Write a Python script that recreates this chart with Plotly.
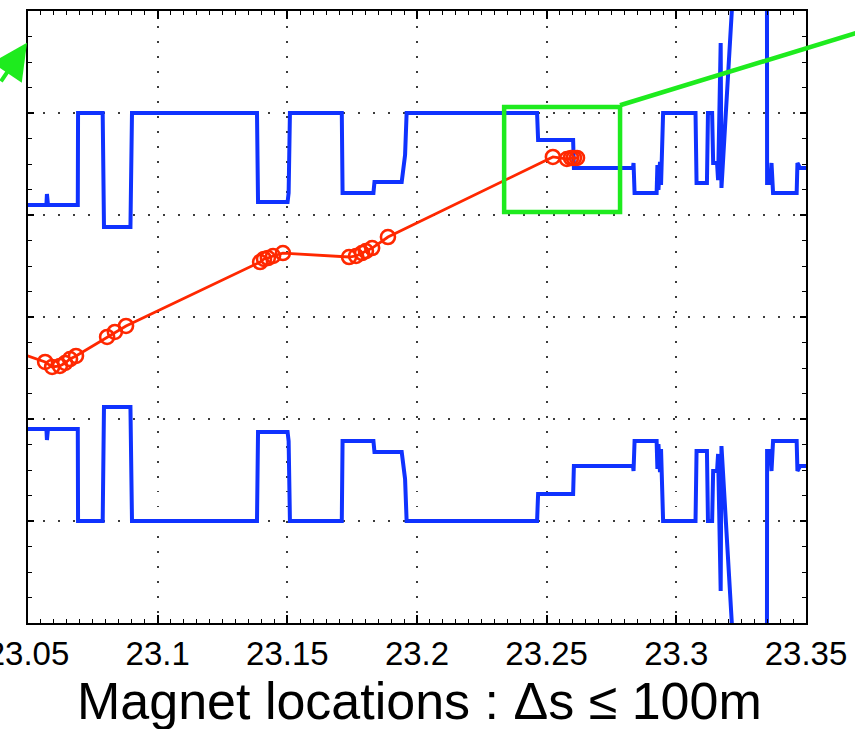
import plotly.graph_objects as go

# Upper envelope (blue), lower envelope is its mirror image
env_s = [23.0450, 23.0571, 23.0573, 23.0577, 23.0692, 23.0693, 23.0788, 23.0793,
         23.0895, 23.0897, 23.0901, 23.1383, 23.1387, 23.1501, 23.1505, 23.1510,
         23.1710, 23.1713, 23.1832, 23.1836, 23.1941, 23.1954, 23.1960, 23.2463,
         23.2467, 23.2602, 23.2605, 23.2833, 23.2835, 23.2839, 23.2924, 23.2927,
         23.2931, 23.2937, 23.2941, 23.2949, 23.3074, 23.3078, 23.3118, 23.3122,
         23.3138, 23.3142, 23.3157, 23.3161, 23.3171, 23.3174, 23.3230, 23.3265,
         23.3348, 23.3350, 23.3362, 23.3367, 23.3373, 23.3464, 23.3467, 23.3477,
         23.3550]
env_up = [1.098, 1.098, 1.206, 1.098, 1.098, 2.000, 2.000, 0.882,
          0.882, 1.186, 2.000, 2.000, 1.127, 1.127, 1.216, 2.000,
          2.000, 1.216, 1.216, 1.324, 1.324, 1.588, 2.000, 2.000,
          1.735, 1.735, 1.461, 1.461, 1.510, 1.216, 1.216, 1.490,
          1.245, 1.520, 1.294, 2.000, 2.000, 1.314, 1.314, 2.000,
          2.000, 1.510, 1.510, 1.343, 2.686, 1.265, 3.700, 8.000,
          8.000, 1.314, 1.314, 1.510, 1.216, 1.216, 1.510, 1.461,
          1.461]
env_low = [-v for v in env_up]

# Red trajectory with magnet markers
orb_s = [23.0400, 23.0566, 23.0593, 23.0623, 23.0643, 23.0662, 23.0685,
         23.0805, 23.0835, 23.0878, 23.1395, 23.1410, 23.1425, 23.1445,
         23.1483, 23.1738, 23.1765, 23.1788, 23.1803, 23.1827, 23.1888,
         23.2524, 23.2578, 23.2594, 23.2605, 23.2617]
orb_y = [-0.292, -0.441, -0.490, -0.480, -0.451, -0.412, -0.382,
         -0.196, -0.147, -0.088, 0.539, 0.569, 0.578, 0.598,
         0.627, 0.588, 0.598, 0.627, 0.647, 0.676, 0.784,
         1.569, 1.549, 1.559, 1.559, 1.559]

x_ticks = [23.05, 23.1, 23.15, 23.2, 23.25, 23.3, 23.35]
x_tick_text = ["23.05", "23.1", "23.15", "23.2", "23.25", "23.3", "23.35"]

zoom_box_s = [23.2336, 23.2783]
zoom_box_y = [1.029, 2.059]

BLUE = "rgb(15,50,255)"
RED = "rgb(255,40,0)"
GREEN = "rgb(30,235,30)"

fig = go.Figure()
fig.add_trace(go.Scatter(x=env_s, y=env_up, mode="lines",
                         line=dict(color=BLUE, width=4), showlegend=False))
fig.add_trace(go.Scatter(x=env_s, y=env_low, mode="lines",
                         line=dict(color=BLUE, width=4), showlegend=False))
fig.add_trace(go.Scatter(x=orb_s, y=orb_y, mode="lines+markers",
                         line=dict(color=RED, width=2.8),
                         marker=dict(symbol="circle-open", size=14, color=RED,
                                     line=dict(width=2.6, color=RED)),
                         showlegend=False))

fig.add_shape(type="rect", xref="x", yref="y",
              x0=zoom_box_s[0], x1=zoom_box_s[1], y0=zoom_box_y[0], y1=zoom_box_y[1],
              line=dict(color=GREEN, width=4.5), layer="above")
fig.add_shape(type="line", xref="paper", yref="paper",
              x0=0.761, y0=0.846, x1=1.085, y1=0.972,
              line=dict(color=GREEN, width=4.5), layer="above")
fig.add_annotation(xref="paper", yref="paper", x=-0.0013, y=0.948, text="",
                   showarrow=True, arrowhead=2, arrowsize=1.8, arrowwidth=4,
                   arrowcolor=GREEN, ax=-55, ay=40)

fig.add_annotation(xref="paper", yref="paper", x=0.5026, y=-0.127,
                   text="Magnet locations : \u0394s \u2264 100m", showarrow=False,
                   xanchor="center", yanchor="middle",
                   font=dict(family="Liberation Sans, Arial", size=52, color="black"))

axis_common = dict(showline=True, linecolor="black", linewidth=2, mirror="allticks",
                   ticks="inside", tickcolor="black", zeroline=False, automargin=False,
                   showgrid=True, gridcolor="rgb(60,60,60)", gridwidth=1.5,
                   griddash="1.5px,13.5px")

fig.update_xaxes(range=[23.05, 23.35], tickvals=x_ticks, ticktext=x_tick_text,
                 ticklen=8, tickwidth=1.5, ticklabeloverflow="allow",
                 minor=dict(dtick=0.005, ticks="inside", ticklen=4, tickcolor="black",
                            tickwidth=1.2, showgrid=False),
                 tickfont=dict(family="Liberation Sans, Arial", size=33, color="black"),
                 **axis_common)
fig.update_yaxes(range=[-3, 3], dtick=1, tick0=0, showticklabels=False,
                 ticklen=6, tickwidth=1.5,
                 minor=dict(dtick=0.25, ticks="inside", ticklen=4, tickcolor="black",
                            tickwidth=1.2, showgrid=False),
                 **axis_common)

fig.update_layout(width=855, height=729,
                  margin=dict(l=28, r=49, t=11, b=106),
                  paper_bgcolor="white", plot_bgcolor="white")

fig.write_html("out.html")
